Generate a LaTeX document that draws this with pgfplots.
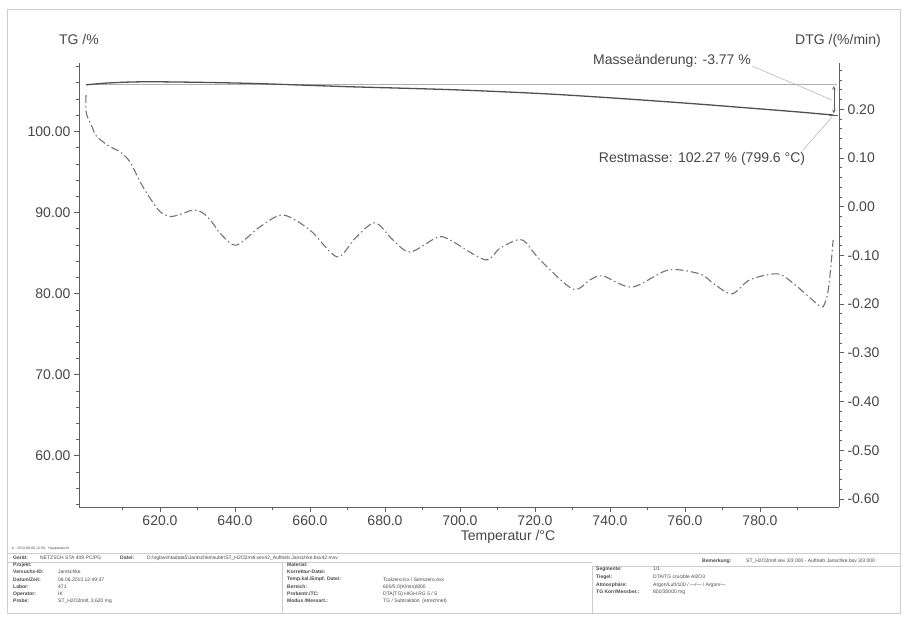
\documentclass[border=0pt]{standalone}
\usepackage{fontspec}
\setmainfont{Liberation Sans}
\usepackage{pgfplots}
\pgfplotsset{compat=1.18}
\definecolor{axisgray}{RGB}{95,95,95}
\definecolor{txtgray}{RGB}{70,70,70}
\definecolor{tgline}{RGB}{80,80,80}
\definecolor{dtgline}{RGB}{115,115,115}
\definecolor{refline}{RGB}{175,175,175}
\definecolor{framegray}{RGB}{205,205,205}
\newcommand{\lbl}{\fontsize{14}{16}\selectfont}
\newcommand{\ft}{\fontsize{5}{6}\selectfont}
\newcommand{\fb}{\fontsize{5}{6}\selectfont\bfseries}

\begin{document}
\begin{tikzpicture}
\path[use as bounding box] (0,0) rectangle (905pt,622pt);

% TG axis (left)
\begin{axis}[
  at={(79pt,114.7pt)}, anchor=south west,
  scale only axis, width=760pt, height=444.3pt,
  xmin=598.4, xmax=801.07, ymin=53.66, ymax=108.45,
  axis x line*=bottom, axis y line*=left,
  axis line style={axisgray, line width=0.9pt, -},
  xtick={620,640,660,680,700,720,740,760,780},
  xticklabels={620.0,640.0,660.0,680.0,700.0,720.0,740.0,760.0,780.0},
  minor xtick={610,630,650,670,690,710,730,750,770,790},
  ytick={60,70,80,90,100},
  yticklabels={60.00,70.00,80.00,90.00,100.00},
  minor ytick={54,56,58,62,64,66,68,72,74,76,78,82,84,86,88,92,94,96,98,102,104,106,108},
  tick align=outside, major tick length=5pt, minor tick length=3pt,
  tick style={axisgray, line width=0.8pt},
  ticklabel style={font=\lbl, text=txtgray},
  clip=false,
]
\addplot[refline, line width=0.7pt] coordinates {(600.3,105.81) (800.6,105.81)};
\addplot[tgline, line width=1.3pt, smooth] coordinates {
  (600.3,105.76) (605,105.95) (610,106.07) (615,106.13) (620,106.13)
  (630,106.07) (644,105.94) (657,105.74) (670,105.53) (684,105.35)
  (697,105.17) (710,104.93) (724,104.62) (737,104.25) (750,103.84)
  (764,103.37) (777,102.90) (790,102.42) (799.6,102.03)
};
\draw[<->, >=stealth, axisgray, line width=0.6pt] (axis cs:799.7,105.6) -- (axis cs:799.7,102.25);
\draw[axisgray, line width=0.6pt] (axis cs:798.4,102.03) -- (axis cs:800.7,102.03);
\end{axis}

% DTG axis (right)
\begin{axis}[
  at={(79pt,114.7pt)}, anchor=south west,
  scale only axis, width=760pt, height=444.3pt,
  xmin=598.4, xmax=801.07, ymin=-0.617, ymax=0.295,
  axis x line=none, axis y line*=right,
  axis line style={axisgray, line width=0.9pt, -},
  ytick={-0.6,-0.5,-0.4,-0.3,-0.2,-0.1,0,0.1,0.2},
  yticklabels={-0.60,-0.50,-0.40,-0.30,-0.20,-0.10,0.00,0.10,0.20},
  minor ytick={-0.58,-0.56,-0.54,-0.52,-0.48,-0.46,-0.44,-0.42,-0.38,-0.36,-0.34,-0.32,-0.28,-0.26,-0.24,-0.22,-0.18,-0.16,-0.14,-0.12,-0.08,-0.06,-0.04,-0.02,0.02,0.04,0.06,0.08,0.12,0.14,0.16,0.18,0.22,0.24,0.26,0.28},
  tick align=outside, major tick length=5pt, minor tick length=3pt,
  tick style={axisgray, line width=0.8pt},
  ticklabel style={font=\lbl, text=txtgray},
]
\addplot[dtgline, line width=1.1pt, dash pattern=on 8pt off 3pt on 1.5pt off 3pt, smooth, tension=0.5] coordinates {
  (600.27,0.229) (600.35,0.192) (601.9,0.164) (603.1,0.144) (606.7,0.123)
  (609.3,0.113) (612.0,0.092) (614.7,0.051) (617.3,0.018) (620.0,-0.010)
  (622.7,-0.020) (625.3,-0.016) (628.8,-0.007) (631.5,-0.013) (634.1,-0.034)
  (636,-0.054) (640.3,-0.079) (646.7,-0.041) (652.8,-0.017) (660,-0.048)
  (667.2,-0.103) (672,-0.065) (677.3,-0.033) (682.1,-0.068) (686.7,-0.093)
  (693.9,-0.063) (697.3,-0.068) (706.7,-0.109) (710.7,-0.085) (716.5,-0.068)
  (721.3,-0.109) (730.1,-0.169) (734.7,-0.150) (738.1,-0.142) (745.9,-0.165)
  (755.5,-0.130) (764,-0.138) (767.5,-0.157) (772.5,-0.179) (777.3,-0.150)
  (784.8,-0.138) (789.9,-0.164) (796,-0.204) (797.3,-0.198) (798.2,-0.171)
  (798.9,-0.123) (799.5,-0.068)
};
\end{axis}

% labels, annotations and footer in pixel coordinates
\begin{scope}[x=1pt, y=-1pt, yshift=622pt]
  \draw[framegray, line width=0.6pt] (7,9) rectangle (900,613);
  \node[txtgray, font=\lbl] at (79,39) {TG /\%};
  \node[txtgray, font=\lbl] at (838,41) {DTG /(\%/min)};
  \node[txtgray, font=\lbl] at (508,537) {Temperatur /°C};
  \node[txtgray, font=\lbl] at (672,61) {Masseänderung: -3.77 \%};
  \node[txtgray, font=\lbl] at (702,159) {Restmasse: 102.27 \% (799.6 °C)};
  \draw[refline, line width=0.5pt] (752,66) -- (832,100);
  \draw[refline, line width=0.5pt] (803,150) -- (832,117);

  % footer
  \node[anchor=west, txtgray, font=\fontsize{3.5}{4}\selectfont] at (8,549) {A\quad 2013-06-06 12:50\quad Hauptansicht};
  \draw[framegray, line width=0.5pt] (7,553) -- (900,553);
  \draw[framegray, line width=0.5pt] (7,562) -- (592,562);
  \draw[framegray, line width=0.5pt] (592,566) -- (900,566);
  \draw[framegray, line width=0.5pt] (282,562) -- (282,613);
  \draw[framegray, line width=0.5pt] (592,566) -- (592,613);
  \begin{scope}[every node/.style={anchor=west, txtgray, inner sep=0pt}]
    \node[font=\fb] at (13,558) {Gerät:};
    \node[font=\ft] at (40,558) {NETZSCH STA 409 PC/PG};
    \node[font=\fb] at (120,558) {Datei:};
    \node[font=\ft] at (147,558) {D:\textbackslash ngbwin\textbackslash tadata5\textbackslash Jantschke\textbackslash subtr\textbackslash ST\_H2O2mitl.sev42\_Auftrieb Janschke.bsv42.msv};
    \node[font=\fb] at (702,561) {Bemerkung:};
    \node[font=\ft] at (746,561) {ST\_H2O2mitl.sev 3/3 000 - Auftrieb Janschke.bsv 3/3 000};
    \node[font=\fb] at (13,565) {Projekt:};
    \node[font=\fb] at (13,572) {Versuchs-ID:};
    \node[font=\ft] at (58,572) {Jantschke};
    \node[font=\fb] at (13,579.5) {Datum/Zeit:};
    \node[font=\ft] at (58,579.5) {06.06.2013 12:49:37};
    \node[font=\fb] at (13,587) {Labor:};
    \node[font=\ft] at (58,587) {471};
    \node[font=\fb] at (13,594) {Operator:};
    \node[font=\ft] at (58,594) {IK};
    \node[font=\fb] at (13,601) {Probe:};
    \node[font=\ft] at (58,601) {ST\_H2O2mitl, 3,620 mg};
    \node[font=\fb] at (287,565) {Material:};
    \node[font=\fb] at (287,572) {Korrektur-Datei:};
    \node[font=\fb] at (287,579.5) {Temp.kal./Empf. Datei:};
    \node[font=\ft] at (383,579.5) {Tcalzero.tcx / Senszero.exx};
    \node[font=\fb] at (287,587) {Bereich:};
    \node[font=\ft] at (383,587) {600/5.0(K/min)/800};
    \node[font=\fb] at (287,594) {Probentr./TC:};
    \node[font=\ft] at (383,594) {DTA(TG) HIGH RG 5 / S};
    \node[font=\fb] at (287,601) {Modus /Messart.:};
    \node[font=\ft] at (383,601) {TG / Subtraktion\ \ (errechnet)};
    \node[font=\fb] at (596,569) {Segmente:};
    \node[font=\ft] at (653,569) {1/1};
    \node[font=\fb] at (596,577) {Tiegel:};
    \node[font=\ft] at (653,577) {DTA/TG crucible Al2O3};
    \node[font=\fb] at (596,585) {Atmosphäre:};
    \node[font=\ft] at (653,585) {Argon/Luft/100 / ---/--- / Argon/---};
    \node[font=\fb] at (596,592) {TG Korr/Messber.:};
    \node[font=\ft] at (653,592) {800/30000 mg};
  \end{scope}
\end{scope}
\end{tikzpicture}
\end{document}
